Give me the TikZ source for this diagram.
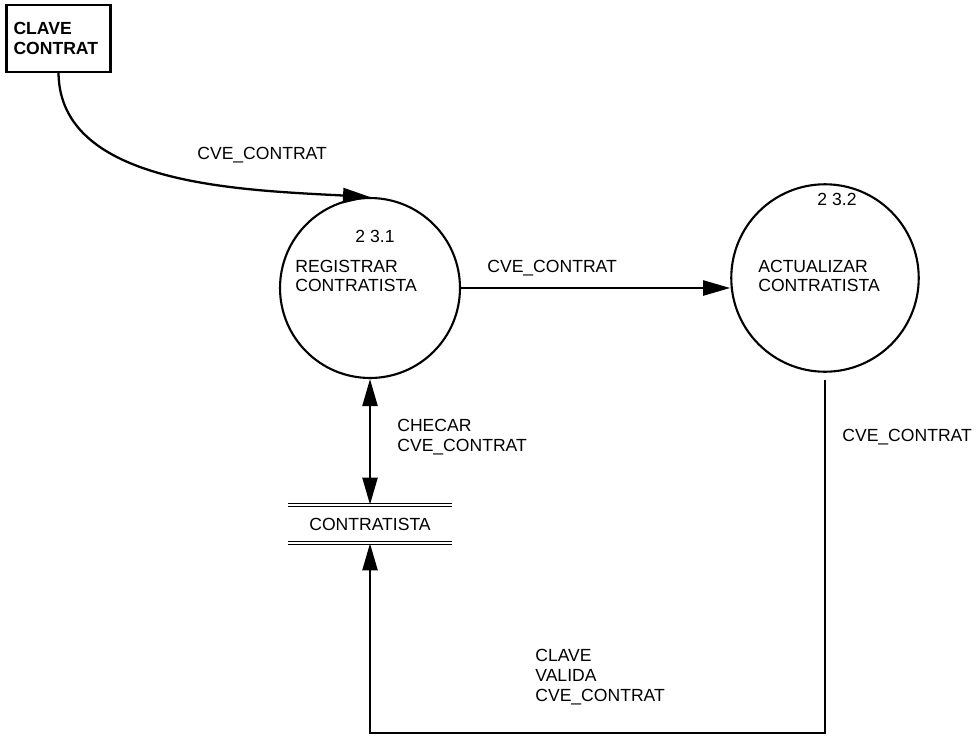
\documentclass[tikz,border=0pt]{standalone}
\usepackage{fontspec}
\setmainfont{Liberation Sans}
\usetikzlibrary{arrows.meta}

\begin{document}
\begin{tikzpicture}[x=0.02cm,y=-0.02cm,
  >={Triangle[length=0.54cm,width=0.3cm]},
  proc/.style={draw,circle,line width=1.2pt,inner sep=0pt},
  flow/.style={line width=1.3pt,->},
  lbl/.style={align=left,inner sep=0pt,anchor=west,font=\fontsize{10}{11.3}\selectfont}]
  \useasboundingbox (0,0) rectangle (978,738);
  % external entity
  \node[draw,line width=1.3pt,align=left,text width=1.8cm,inner xsep=0.14cm,
        minimum height=1.34cm,font=\fontsize{10}{11.3}\selectfont\bfseries] (ext) at (58.5,38.5) {CLAVE\\CONTRAT};
  % processes
  \node[proc,minimum size=3.6cm] (reg) at (370,288) {};
  \node[lbl,anchor=center] (regnum) at (375,236) {2 3.1};
  \node[lbl] (regtxt) at (295,276) {REGISTRAR\\CONTRATISTA};
  \node[proc,minimum size=3.75cm] (act) at (825,278) {};
  \node[lbl,anchor=center] (actnum) at (837,199) {2 3.2};
  \node[lbl] (acttxt) at (758,276) {ACTUALIZAR\\CONTRATISTA};
  % data store
  \node[minimum width=3.26cm,minimum height=0.76cm,inner sep=0pt,
        font=\fontsize{10}{11.3}\selectfont] (store) at (370,524) {CONTRATISTA};
  \draw[double,line width=0.7pt,double distance=1pt] (store.north west) -- (store.north east);
  \draw[double,line width=0.7pt,double distance=1pt] (store.south west) -- (store.south east);
  % flows
  \draw[flow] (ext.south) .. controls (60,185) and (240,190) .. (reg.north);
  \node[lbl] (l1) at (197,155) {CVE\_CONTRAT};
  \draw[flow] (reg.east) -- (reg.east -| act.west);
  \node[lbl] (l2) at (487,268) {CVE\_CONTRAT};
  \draw[flow,<->] (reg.south) -- (store.north);
  \node[lbl] (l3) at (397,437) {CHECAR\\CVE\_CONTRAT};
  \coordinate (turn) at (828,733);
  \draw[flow,shorten <=4pt] (act.south) -- (act.south |- turn) -| (store.south);
  \node[lbl] (l4) at (842,437) {CVE\_CONTRAT};
  \node[lbl] (l5) at (535,677) {CLAVE\\VALIDA\\CVE\_CONTRAT};
\end{tikzpicture}
\end{document}
